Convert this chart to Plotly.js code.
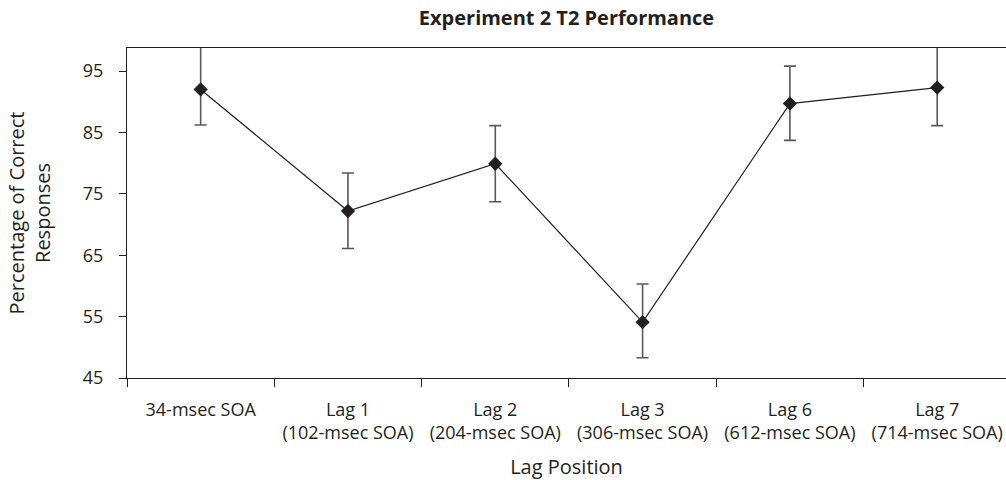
<!DOCTYPE html>
<html>
<head>
<meta charset="utf-8">
<script src="https://cdn.plot.ly/plotly-3.0.1.min.js"></script>
<style>
  html, body { margin: 0; padding: 0; background: #ffffff; overflow: hidden; }
  #chart { width: 1006px; height: 480px; }
</style>
</head>
<body>
<div id="chart"></div>
<script>
// Data
const categories = [
  "34-msec SOA",
  "Lag 1<br>(102-msec SOA)",
  "Lag 2<br>(204-msec SOA)",
  "Lag 3<br>(306-msec SOA)",
  "Lag 6<br>(612-msec SOA)",
  "Lag 7<br>(714-msec SOA)"
];
const percentCorrect = [92.0, 72.2, 79.9, 54.1, 89.7, 92.3];
const errorPlus  = [7.0, 6.2, 6.2, 6.2, 6.1, 7.0];   // first and last run past the top of the plot
const errorMinus = [5.8, 6.1, 6.2, 5.8, 6.0, 6.2];
const yTickValues = [45, 55, 65, 75, 85, 95];

const ink = "#231f20";

const trace = {
  type: "scatter",
  mode: "lines+markers",
  x: categories,
  y: percentCorrect,
  line: { color: ink, width: 1.2 },
  marker: { symbol: "diamond", size: 11, color: ink },
  error_y: {
    type: "data",
    symmetric: false,
    array: errorPlus,
    arrayminus: errorMinus,
    color: "#58595b",
    thickness: 1.6,
    width: 6
  },
  cliponaxis: true,
  showlegend: false,
  hoverinfo: "x+y"
};

const layout = {
  width: 1006,
  height: 480,
  margin: { l: 127, r: 0, t: 48, b: 102 },
  paper_bgcolor: "#ffffff",
  plot_bgcolor: "#ffffff",
  font: { family: "'Open Sans', 'Noto Sans', sans-serif", color: ink, size: 18 },
  title: {
    text: "<b>Experiment 2 T2 Performance</b>",
    font: { size: 20, color: ink },
    x: 0.5, xref: "paper", xanchor: "center",
    y: 1 - 18 / 480, yref: "container", yanchor: "middle"
  },
  xaxis: {
    type: "category",
    range: [-0.5, 5.467],
    showline: true,
    linecolor: ink,
    linewidth: 1.2,
    mirror: true,
    showgrid: false,
    zeroline: false,
    ticks: "outside",
    tickson: "boundaries",
    ticklen: 8,
    tickwidth: 1.2,
    tickcolor: ink,
    tickfont: { size: 18, color: ink },
    ticklabelstandoff: 15,
    title: { text: "Lag Position", font: { size: 20, color: ink }, standoff: 20 },
    automargin: false,
    fixedrange: true
  },
  yaxis: {
    range: [45, 98.75],
    tickvals: yTickValues,
    ticktext: yTickValues.map(String),
    showline: true,
    linecolor: ink,
    linewidth: 1.2,
    mirror: false,
    showgrid: false,
    zeroline: false,
    ticks: "outside",
    ticklen: 7,
    tickwidth: 1.2,
    tickcolor: ink,
    tickfont: { size: 18, color: ink },
    ticklabelstandoff: 12,
    title: { text: "Percentage of Correct<br>Responses", font: { size: 20, color: ink }, standoff: 26 },
    automargin: false,
    fixedrange: true
  }
};

Plotly.newPlot("chart", [trace], layout, { displayModeBar: false, staticPlot: false, responsive: false });
</script>
</body>
</html>
